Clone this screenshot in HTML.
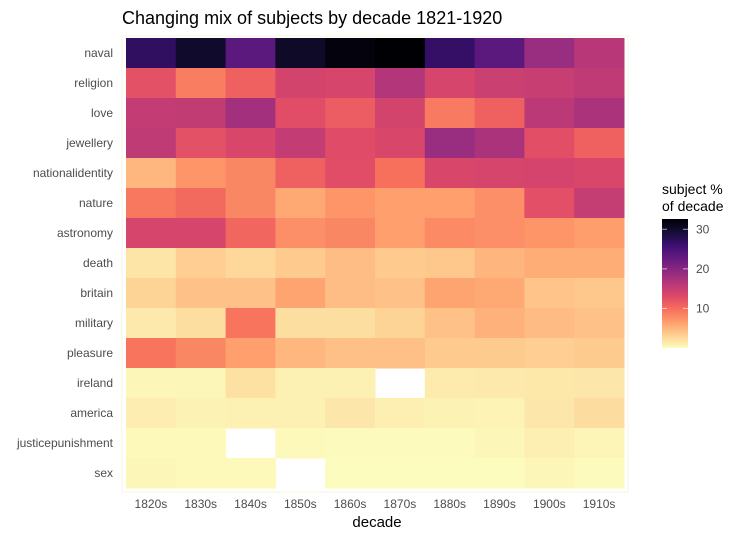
<!DOCTYPE html>
<html><head><meta charset="utf-8"><style>
body{margin:0;background:#fff;font-family:"Liberation Sans",sans-serif;}
svg text{font-family:"Liberation Sans",sans-serif;}
</style></head><body>
<svg id="chart" width="754" height="539">
<defs>
<linearGradient id="lg" x1="0" y1="1" x2="0" y2="0">
<stop offset="0" stop-color="#fcfdbf"/><stop offset="0.1" stop-color="#fecf92"/><stop offset="0.2" stop-color="#fe9f6d"/><stop offset="0.3" stop-color="#f7705c"/><stop offset="0.4" stop-color="#de4968"/><stop offset="0.5" stop-color="#b73779"/><stop offset="0.6" stop-color="#8c2981"/><stop offset="0.7" stop-color="#641a80"/><stop offset="0.8" stop-color="#3b0f70"/><stop offset="0.9" stop-color="#140e36"/><stop offset="1" stop-color="#000004"/>
</linearGradient>
</defs>
<text x="122" y="24" font-size="18" fill="#000">Changing mix of subjects by decade 1821-1920</text>
<rect x="122" y="36" width="506" height="456" fill="none" stroke="#f6f6dc" stroke-width="1"/>
<g id="cells"></g><g id="ylab"></g><g id="xlab"></g>
<text x="377" y="527" font-size="15" text-anchor="middle" fill="#000">decade</text>
<g>
<text x="662" y="194" font-size="14" fill="#000">subject %</text>
<text x="662" y="211" font-size="14" fill="#000">of decade</text>
<rect x="662" y="219" width="26" height="129" fill="url(#lg)"/>
<g id="leg"></g>
</g>
</svg>
<script>
const decades=["1820s","1830s","1840s","1850s","1860s","1870s","1880s","1890s","1900s","1910s"];
const subjects=["naval","religion","love","jewellery","nationalidentity","nature","astronomy","death","britain","military","pleasure","ireland","america","justicepunishment","sex"];
const naval=[27,30,23.5,30.3,32,32.6,26.7,23.5,18.6,16.3];
const religion=[12.4,8.8,11,14,13.7,16.6,13.7,14.7,15,15.6];
const love=[15.3,15.4,17.9,12.7,11.4,14,9.1,11,16,17.3];
const jewellery=[15.6,12.4,13.5,15.3,12.8,13.5,18.6,17.3,12.6,11];
const nationalidentity=[4.9,7.2,8.2,11,12.7,9.8,13.5,13.8,13.9,13.5];
const nature=[9.3,10.4,8.2,5.9,7.2,6.5,6.5,7.6,12.5,15.2];
const astronomy=[13.8,13.8,10.5,7.6,8.2,6.5,8,7.6,7.2,6.6];
const death=[1.7,3.3,2.7,3.6,4.5,3.6,3.8,5,5.6,5.6];
const britain=[3,4.2,4.2,6.2,4.5,4.2,6.2,5.9,4,3.8];
const military=[1.4,2.2,9.5,2.2,2.2,3,4.2,5.3,4.6,4.2];
const pleasure=[9.5,8.2,6.5,4.9,4.3,4.3,3.6,3.5,3.3,3.5];
const ireland=[0.4,0.5,2,0.9,0.9,null,1.3,1.4,1.5,1.6];
const america=[1.1,0.8,0.9,0.9,1.6,1,0.8,0.7,1.6,2.3];
const justicepunishment=[0.3,0.3,null,0.3,0.2,0.2,0.2,0.4,1,0.6];
const sex=[0.4,0.3,0.3,null,0.1,0.1,0.1,0.1,0.4,0.2];
const values=[naval,religion,love,jewellery,nationalidentity,nature,astronomy,death,britain,military,pleasure,ireland,america,justicepunishment,sex];
const legendTicks=[10,20,30];
const vmax=32.6;
const magma=["#000004","#140e36","#3b0f70","#641a80","#8c2981","#b73779","#de4968","#f7705c","#fe9f6d","#fecf92","#fcfdbf"];
function hex(h){return [1,3,5].map(i=>parseInt(h.substr(i,2),16));}
function color(v){let m=1-Math.min(1,Math.max(0,v/vmax));let p=m*10,i=Math.min(9,Math.floor(p)),f=p-i;
 const a=hex(magma[i]),b=hex(magma[i+1]);return "rgb("+a.map((c,k)=>Math.round(c+(b[k]-c)*f)).join(",")+")";}
const X0=126,X1=624,Y0=38,Y1=488;
const cw=(X1-X0)/decades.length, ch=(Y1-Y0)/subjects.length;
const xs=i=>X0+i*cw, ys=j=>Y0+j*ch;
const NS="http://www.w3.org/2000/svg";
const cells=document.getElementById("cells"),yl=document.getElementById("ylab"),xl=document.getElementById("xlab"),leg=document.getElementById("leg");
function mk(t,a){const e=document.createElementNS(NS,t);for(const k in a)e.setAttribute(k,a[k]);return e;}
values.forEach((row,j)=>{row.forEach((v,i)=>{if(v===null)return;
 const r=mk("rect",{x:xs(i),y:ys(j),width:cw+0.5,height:ch+0.5,fill:color(v)});
 
 
 cells.appendChild(r);});
 const t=mk("text",{x:113,y:ys(j)+ch/2+4,"font-size":12,"text-anchor":"end",fill:"#4d4d4d"});t.textContent=subjects[j];
 
 
 yl.appendChild(t);});
decades.forEach((d,i)=>{const t=mk("text",{x:xs(i)+cw/2,y:508,"font-size":12,"text-anchor":"middle",fill:"#4d4d4d"});t.textContent=d;
 
 
 xl.appendChild(t);});
const ly=v=>348-v/vmax*129;
legendTicks.forEach(v=>{
 const l1=mk("line",{x1:662,x2:667,y1:ly(v),y2:ly(v),stroke:"#fff","stroke-opacity":0.6});
 
 
 const l2=mk("line",{x1:683,x2:688,y1:ly(v),y2:ly(v),stroke:"#fff","stroke-opacity":0.6});
 
 
 const t=mk("text",{x:696,y:ly(v)+4,"font-size":12,fill:"#4d4d4d"});t.textContent=v;
 
 
 leg.appendChild(l1);leg.appendChild(l2);leg.appendChild(t);});
</script>
</body></html>
